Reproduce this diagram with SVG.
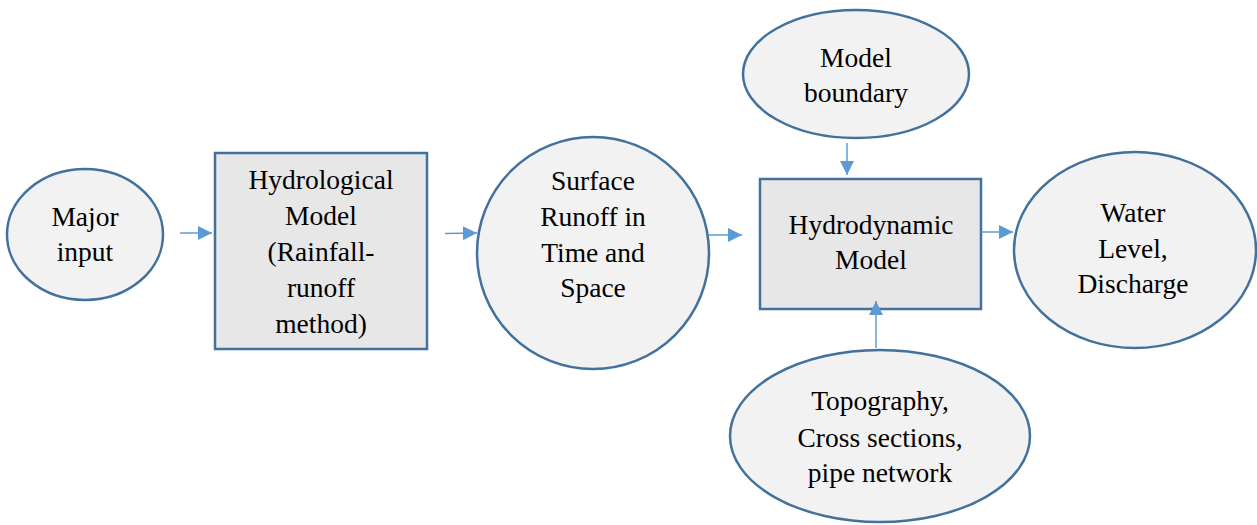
<svg xmlns="http://www.w3.org/2000/svg" width="1257" height="525" viewBox="0 0 1257 525">
  <style>
    .oval { fill: #f2f2f2; stroke: #41719c; stroke-width: 2.5; }
    .box { fill: #e7e7e7; stroke: #41719c; stroke-width: 2.5; }
    .lbl { font-family: "Liberation Serif", "Times New Roman", serif; font-size: 27.5px; fill: #000; text-anchor: middle; }
    .conn { stroke: #5b9bd5; stroke-width: 1.5; fill: none; marker-end: url(#head); }
  </style>
  <defs>
    <marker id="head" viewBox="0 0 10 10" refX="10" refY="5" markerUnits="userSpaceOnUse" markerWidth="16" markerHeight="14" orient="auto">
      <path d="M0,0 L10,5 L0,10 Z" fill="#5b9bd5"/>
    </marker>
  </defs>
  <rect width="1257" height="525" fill="#ffffff"/>

  <g id="major-input">
    <ellipse class="oval" cx="85" cy="234.5" rx="78" ry="65.5"/>
    <text class="lbl" x="85" y="226">Major</text>
    <text class="lbl" x="85" y="261">input</text>
  </g>

  <g id="hydrological-model">
    <rect class="box" x="215" y="153" width="212" height="196"/>
    <text class="lbl" x="321" y="189">Hydrological</text>
    <text class="lbl" x="321" y="225">Model</text>
    <text class="lbl" x="321" y="261">(Rainfall-</text>
    <text class="lbl" x="321" y="297">runoff</text>
    <text class="lbl" x="321" y="333">method)</text>
  </g>

  <g id="surface-runoff">
    <circle class="oval" cx="593" cy="253" r="116"/>
    <text class="lbl" x="593" y="190">Surface</text>
    <text class="lbl" x="593" y="226">Runoff in</text>
    <text class="lbl" x="593" y="262">Time and</text>
    <text class="lbl" x="593" y="297">Space</text>
  </g>

  <g id="model-boundary">
    <ellipse class="oval" cx="856" cy="74" rx="113" ry="64"/>
    <text class="lbl" x="856" y="67">Model</text>
    <text class="lbl" x="856" y="102">boundary</text>
  </g>

  <g id="hydrodynamic-model">
    <rect class="box" x="760" y="179" width="221" height="130"/>
    <text class="lbl" x="871" y="234">Hydrodynamic</text>
    <text class="lbl" x="871" y="269">Model</text>
  </g>

  <g id="water-level">
    <ellipse class="oval" cx="1135" cy="250" rx="121" ry="98"/>
    <text class="lbl" x="1133" y="222">Water</text>
    <text class="lbl" x="1133" y="258">Level,</text>
    <text class="lbl" x="1133" y="293">Discharge</text>
  </g>

  <g id="topography">
    <ellipse class="oval" cx="880" cy="436" rx="150" ry="86"/>
    <text class="lbl" x="880" y="410">Topography,</text>
    <text class="lbl" x="880" y="447">Cross sections,</text>
    <text class="lbl" x="880" y="482">pipe network</text>
  </g>

  <g id="connectors">
    <line class="conn" x1="180" y1="233" x2="212" y2="233"/>
    <line class="conn" x1="445" y1="233.5" x2="477" y2="233"/>
    <line class="conn" x1="709" y1="235" x2="742" y2="235"/>
    <line class="conn" x1="847" y1="143" x2="847" y2="175"/>
    <line class="conn" x1="981" y1="232" x2="1013" y2="232"/>
    <line class="conn" x1="876" y1="348" x2="876" y2="301"/>
  </g>
</svg>
